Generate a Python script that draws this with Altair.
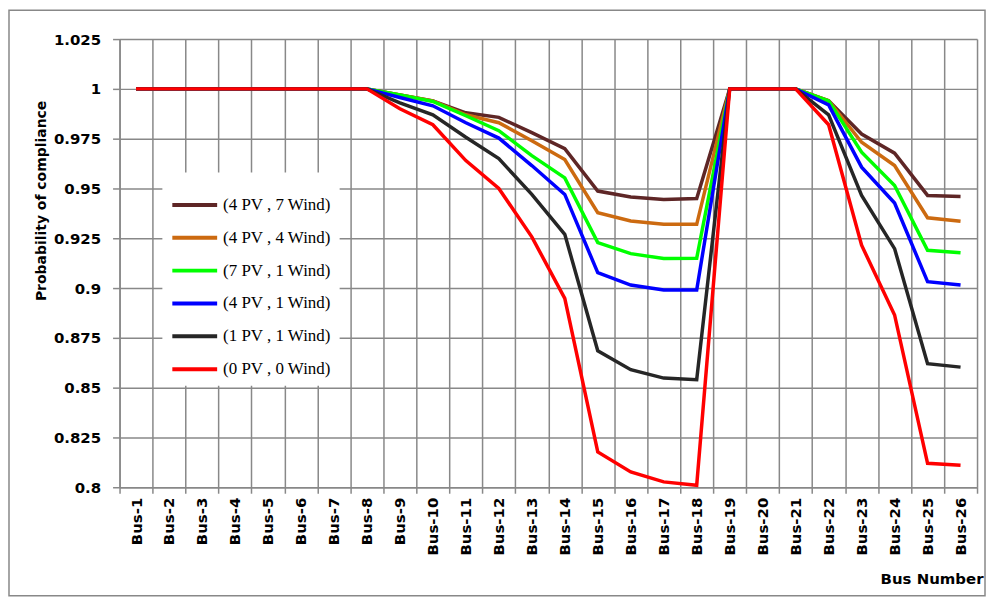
import altair as alt
import pandas as pd

bus_numbers = list(range(1, 27))

series_names = ["(4 PV , 7 Wind)", "(4 PV , 4 Wind)", "(7 PV , 1 Wind)",
                "(4 PV , 1 Wind)", "(1 PV , 1 Wind)", "(0 PV , 0 Wind)"]
series_colors = ["#5E2626", "#CC6A10", "#00FF00", "#0000FF", "#262626", "#FF0000"]

pv4_wind7 = [1, 1, 1, 1, 1, 1, 1, 1, 0.997, 0.994, 0.988, 0.9857, 0.978, 0.970,
             0.9487, 0.9457, 0.9445, 0.945, 1, 1, 1, 0.994, 0.9773, 0.9677, 0.9465, 0.946]
pv4_wind4 = [1, 1, 1, 1, 1, 1, 1, 1, 0.997, 0.994, 0.987, 0.983, 0.974, 0.9645,
             0.9378, 0.9337, 0.932, 0.932, 1, 1, 1, 0.994, 0.9732, 0.9615, 0.9353, 0.9335]
pv7_wind1 = [1, 1, 1, 1, 1, 1, 1, 1, 0.997, 0.9937, 0.9865, 0.979, 0.9665, 0.9553,
             0.9228, 0.9173, 0.9148, 0.915, 1, 1, 1, 0.994, 0.9682, 0.9515, 0.919, 0.9177]
pv4_wind1 = [1, 1, 1, 1, 1, 1, 1, 1, 0.9957, 0.9915, 0.983, 0.9753, 0.9615, 0.947,
             0.9077, 0.9015, 0.899, 0.899, 1, 1, 1, 0.992, 0.9607, 0.9427, 0.9032, 0.9015]
pv1_wind1 = [1, 1, 1, 1, 1, 1, 1, 1, 0.993, 0.987, 0.9757, 0.965, 0.947, 0.927,
             0.8685, 0.859, 0.8548, 0.854, 1, 1, 1, 0.987, 0.9465, 0.9198, 0.862, 0.8603]
pv0_wind0 = [1, 1, 1, 1, 1, 1, 1, 1, 0.990, 0.982, 0.964, 0.950, 0.9257, 0.8948,
             0.8177, 0.8077, 0.8027, 0.801, 1, 1, 1, 0.982, 0.9215, 0.8865, 0.812, 0.811]

y_ticks = [0.8, 0.825, 0.85, 0.875, 0.9, 0.925, 0.95, 0.975, 1, 1.025]

all_series = [pv4_wind7, pv4_wind4, pv7_wind1, pv4_wind1, pv1_wind1, pv0_wind0]
rows = []
for s_idx, (name, vals) in enumerate(zip(series_names, all_series)):
    for b, v in zip(bus_numbers, vals):
        rows.append({"bus": b, "value": v, "series": name, "s": s_idx})
df = pd.DataFrame(rows)

W, H = 861, 450
PAD_L, PAD_T, PAD_R, PAD_B = 112, 30, 9, 110

x_axis_values = [0.5 + 0.5 * k for k in range(53)]
half_test = "datum.value % 1 != 0"

x_enc = alt.X(
    "bus:Q",
    scale=alt.Scale(domain=[0.5, 26.5], nice=False, zero=False),
    axis=alt.Axis(
        values=x_axis_values,
        labelExpr="datum.value % 1 == 0 ? 'Bus-' + datum.value : ''",
        labelAngle=270,
        labelAlign="right",
        labelBaseline="middle",
        labelFont="DejaVu Sans",
        labelFontWeight="bold",
        labelFontSize=15,
        labelColor="#000000",
        labelPadding=4,
        labelOverlap=False,
        labelBound=False,
        labelFlush=False,
        grid=True,
        gridColor="#888888",
        gridWidth=1.5,
        gridOpacity={"condition": {"test": half_test, "value": 1}, "value": 0},
        ticks=True,
        tickColor="#888888",
        tickWidth=1.5,
        tickSize=6,
        tickOpacity={"condition": {"test": half_test, "value": 1}, "value": 0},
        domainColor="#888888",
        domainWidth=1.5,
        title="Bus Number",
        titleFont="DejaVu Sans",
        titleFontWeight="bold",
        titleFontSize=15,
        titleColor="#000000",
        titleAnchor="end",
        titleAlign="right",
        titleBaseline="middle",
        titleX=W + 6,
        titleY=92,
    ),
)

y_enc = alt.Y(
    "value:Q",
    scale=alt.Scale(domain=[0.8, 1.025], nice=False, zero=False),
    axis=alt.Axis(
        values=y_ticks,
        format=".4~g",
        labelFont="DejaVu Sans",
        labelFontWeight="bold",
        labelFontSize=15,
        labelColor="#000000",
        labelPadding=12,
        grid=True,
        gridColor="#888888",
        gridWidth=1.5,
        tickColor="#888888",
        tickWidth=1.5,
        tickSize=7,
        domainColor="#888888",
        domainWidth=1.5,
        title="Probability of compliance",
        titleFont="DejaVu Sans",
        titleFontWeight="bold",
        titleFontSize=14,
        titleColor="#000000",
        titleAngle=270,
        titleAlign="center",
        titleBaseline="middle",
        titleX=-78,
        titleY=162,
    ),
)

lines = alt.Chart(df).mark_line(strokeWidth=3.5, clip=False).encode(
    x=x_enc,
    y=y_enc,
    color=alt.Color(
        "series:N",
        scale=alt.Scale(domain=series_names, range=series_colors),
        legend=alt.Legend(
            title=None,
            orient="none",
            legendX=43,
            legendY=134,
            fillColor="#FFFFFF",
            padding=8,
            symbolType="stroke",
            symbolSize=2025,
            symbolStrokeWidth=4,
            rowPadding=-16,
            labelFont="Liberation Serif",
            labelFontSize=17,
            labelColor="#000000",
            labelOffset=4,
            labelLimit=200,
        ),
    ),
    detail="s:N",
    order="bus:Q",
)

frame_df = pd.DataFrame({"k": [0]})
frame = alt.Chart(frame_df).mark_rect(
    fill=None, stroke="#888888", strokeWidth=1.5, clip=False
).encode(
    x=alt.value(-PAD_L + 1),
    x2=alt.value(W + PAD_R - 1),
    y=alt.value(-PAD_T + 1),
    y2=alt.value(H + PAD_B - 1),
)

chart = alt.layer(frame, lines).properties(
    width=W,
    height=H,
    autosize=alt.AutoSizeParams(type="none"),
    padding={"left": PAD_L, "top": PAD_T, "right": PAD_R, "bottom": PAD_B},
    background="#FFFFFF",
).configure_view(stroke=None)

chart.save("out.html", embed_options={"renderer": "svg", "actions": False})
